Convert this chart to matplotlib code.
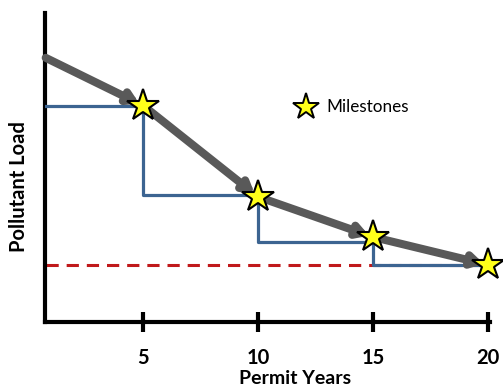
import matplotlib
matplotlib.use("Agg")
import matplotlib.pyplot as plt

# ---- data ----
years_path = [0.75, 5, 10, 15, 20]
load_path = [8.55, 7.0, 4.05, 2.75, 1.85]
milestone_years = [5, 10, 15, 20]
milestone_loads = [7.0, 4.05, 2.75, 1.85]
step_years = [0.75, 5, 10, 15, 20]
step_loads = [7.0, 4.1, 2.6, 1.85, 1.85]
target_load = 1.85
tick_years = [5, 10, 15, 20]
tick_labels = ["5", "10", "15", "20"]

plt.rcParams['font.family'] = ['Lato', 'DejaVu Sans']

W, H = 503, 390
fig = plt.figure(figsize=(W / 100, H / 100), dpi=100)
ax = fig.add_axes([45 / W, (H - 322) / H, (490 - 45) / W, (322 - 13) / H])
ax.set_xlim(0.72, 20.09)
ax.set_ylim(0, 10)

# target (red dashed)
ax.plot([step_years[0], step_years[-1]], [target_load, target_load],
        color="#C0191B", lw=2.2, ls=(0, (4, 2.6)), zorder=2, solid_capstyle='butt')

# permit limits (blue steps)
ax.step(step_years, step_loads, where='post', color="#3C6491", lw=2.3, zorder=3)

# gray arrows
for i in range(len(years_path) - 1):
    ax.annotate("", xy=(years_path[i + 1], load_path[i + 1]),
                xytext=(years_path[i], load_path[i]),
                arrowprops=dict(arrowstyle="-|>,head_length=0.6,head_width=0.35",
                                color="#595959", lw=5.8, shrinkA=0, shrinkB=3),
                zorder=4)

# milestone stars
ax.plot(milestone_years, milestone_loads, ls='none', marker='*', ms=24,
        mfc="#FFFF1A", mec="black", mew=1.5, zorder=5, clip_on=False)

# legend
ax.plot([12.1], [6.95], ls='none', marker='*', ms=20, mfc="#FFFF1A",
        mec="black", mew=1.4, zorder=5)
ax.text(12.95, 6.95, "Milestones", fontsize=12.3, va='center', ha='left')

# spines
for s in ['top', 'right']:
    ax.spines[s].set_visible(False)
for s in ['left', 'bottom']:
    ax.spines[s].set_linewidth(3)
ax.set_yticks([])
ax.set_xticks(tick_years)
ax.set_xticklabels(tick_labels, fontsize=14.5, fontweight='bold')
ax.tick_params(axis='x', direction='inout', length=15, width=3, pad=11)

fig.text(295 / W, 1 - 378 / H, "Permit Years", fontsize=14, fontweight='bold',
         ha='center', va='center')
fig.text(19 / W, 1 - 187 / H, "Pollutant Load", fontsize=14.5, fontweight='bold',
         ha='center', va='center', rotation=90)

fig.savefig("out.png", dpi=100)
